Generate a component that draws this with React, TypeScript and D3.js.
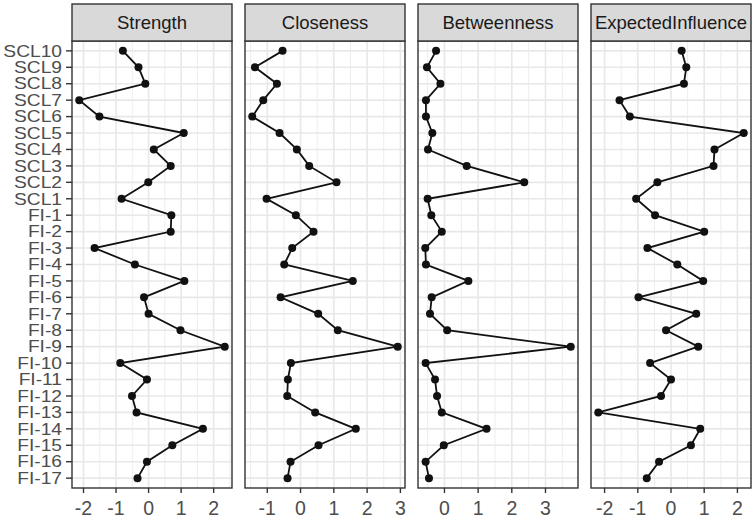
import * as d3 from 'd3'

// node labels, top to bottom
const nodes = [
  'SCL10', 'SCL9', 'SCL8', 'SCL7', 'SCL6', 'SCL5', 'SCL4', 'SCL3', 'SCL2', 'SCL1',
  'FI-1', 'FI-2', 'FI-3', 'FI-4', 'FI-5', 'FI-6', 'FI-7', 'FI-8', 'FI-9', 'FI-10',
  'FI-11', 'FI-12', 'FI-13', 'FI-14', 'FI-15', 'FI-16', 'FI-17',
]

const measures = ['Strength', 'Closeness', 'Betweenness', 'ExpectedInfluence']

// z-scored centrality, same order as nodes
const strength = [
  -0.79, -0.31, -0.10, -2.13, -1.51, 1.08, 0.16, 0.68, -0.01, -0.83,
  0.70, 0.68, -1.66, -0.42, 1.10, -0.14, 0.00, 0.98, 2.34, -0.87,
  -0.05, -0.51, -0.37, 1.67, 0.73, -0.05, -0.34,
]
const closeness = [
  -0.54, -1.37, -0.71, -1.12, -1.45, -0.63, -0.11, 0.26, 1.08, -1.02,
  -0.14, 0.39, -0.25, -0.49, 1.57, -0.60, 0.53, 1.12, 2.92, -0.29,
  -0.38, -0.40, 0.44, 1.66, 0.54, -0.30, -0.39,
]
const betweenness = [
  -0.25, -0.52, -0.12, -0.55, -0.55, -0.36, -0.49, 0.66, 2.37, -0.50,
  -0.39, -0.08, -0.57, -0.55, 0.71, -0.38, -0.43, 0.08, 3.75, -0.56,
  -0.28, -0.22, -0.08, 1.25, -0.02, -0.56, -0.46,
]
const expectedInfluence = [
  0.32, 0.46, 0.39, -1.55, -1.24, 2.19, 1.31, 1.28, -0.41, -1.05,
  -0.48, 1.00, -0.71, 0.19, 0.97, -0.98, 0.76, -0.15, 0.82, -0.63,
  0.00, -0.30, -2.19, 0.88, 0.60, -0.36, -0.73,
]

const series = [strength, closeness, betweenness, expectedInfluence]

// x tick labels per panel
const xTicks = [
  [-2, -1, 0, 1, 2],
  [-1, 0, 1, 2, 3],
  [0, 1, 2, 3],
  [-2, -1, 0, 1, 2],
]

const W = 753, H = 522
const LEFT = 72, PW = 160, GAP = 13
const STRIP_TOP = 4, STRIP_BOT = 41, PANEL_BOT = 488
const FONT = '"Liberation Sans", Arial, sans-serif'

export default function App() {
  const y = d3.scalePoint<string>().domain(nodes).range([STRIP_BOT, PANEL_BOT]).padding(0.6)

  return (
    <svg width={W} height={H} style={{ position: 'absolute', left: 0, top: 0, background: '#fff' }}
      fontFamily={FONT}>
      {series.map((vals, k) => {
        const x0 = LEFT + k * (PW + GAP)
        const [lo, hi] = d3.extent(vals) as [number, number]
        const pad = (hi - lo) * 0.05
        const x = d3.scaleLinear().domain([lo - pad, hi + pad]).range([x0, x0 + PW])
        const ticks = xTicks[k]
        const minor = d3.range(Math.floor(lo - pad) + 0.5, hi + pad, 1)
          .filter((v) => v > lo - pad && v < hi + pad)
        const line = d3.line<number>().x((v) => x(v)).y((_, i) => y(nodes[i])!)
        return (
          <g key={measures[k]}>
            <rect x={x0} y={STRIP_BOT} width={PW} height={PANEL_BOT - STRIP_BOT} fill="#fff" />
            {minor.map((v) => (
              <line key={'m' + v} x1={x(v)} x2={x(v)} y1={STRIP_BOT} y2={PANEL_BOT}
                stroke="#EBEBEB" strokeWidth={0.9} />
            ))}
            {ticks.map((v) => (
              <line key={'g' + v} x1={x(v)} x2={x(v)} y1={STRIP_BOT} y2={PANEL_BOT}
                stroke="#E8E8E8" strokeWidth={1.6} />
            ))}
            {nodes.map((n) => (
              <line key={'h' + n} x1={x0} x2={x0 + PW} y1={y(n)} y2={y(n)}
                stroke="#E8E8E8" strokeWidth={1.6} />
            ))}
            <path d={line(vals) ?? ''} fill="none" stroke="#111" strokeWidth={1.8} />
            {vals.map((v, i) => (
              <circle key={nodes[i]} cx={x(v)} cy={y(nodes[i])} r={4} fill="#111" />
            ))}
            <rect x={x0} y={STRIP_BOT} width={PW} height={PANEL_BOT - STRIP_BOT}
              fill="none" stroke="#333" strokeWidth={1.4} />
            <rect x={x0} y={STRIP_TOP} width={PW} height={STRIP_BOT - STRIP_TOP}
              fill="#D9D9D9" stroke="#333" strokeWidth={1.4} />
            <text x={x0 + PW / 2} y={(STRIP_TOP + STRIP_BOT) / 2} dy="0.35em"
              textAnchor="middle" fontSize={18.5} fill="#1A1A1A">{measures[k]}</text>
            {ticks.map((v) => (
              <g key={'t' + v}>
                <line x1={x(v)} x2={x(v)} y1={PANEL_BOT} y2={PANEL_BOT + 5} stroke="#333" strokeWidth={1.4} />
                <text x={x(v)} y={PANEL_BOT + 20} dy="0.35em" textAnchor="middle"
                  fontSize={19.5} fill="#4D4D4D">{v < 0 ? '-' + Math.abs(v) : v}</text>
              </g>
            ))}
          </g>
        )
      })}
      {nodes.map((n) => (
        <g key={'y' + n}>
          <line x1={LEFT - 6} x2={LEFT} y1={y(n)} y2={y(n)} stroke="#333" strokeWidth={1.4} />
          <text transform={`translate(${LEFT - 10},${y(n)}) scale(1.2,1)`} dy="0.36em"
            textAnchor="end" fontSize={16} fill="#4D4D4D">{n}</text>
        </g>
      ))}
    </svg>
  )
}
